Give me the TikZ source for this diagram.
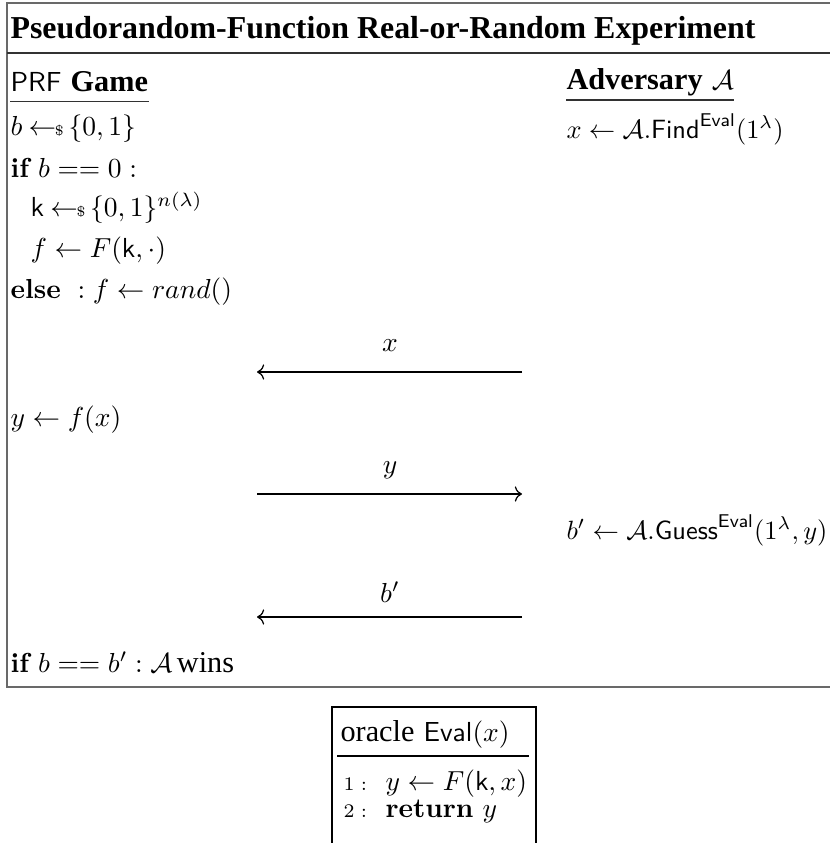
\documentclass[tikz,border=0pt]{standalone}
\usepackage{amsmath,amssymb}
\usepackage{graphicx}
\usepackage{fontspec}
\usepackage{xcolor}
\usepackage{tikz}
\usetikzlibrary{arrows.meta, positioning}
\newfontfamily\palfont{Liberation Serif}
\definecolor{framegray}{RGB}{105, 105, 105}
\definecolor{rulegray}{RGB}{50, 50, 50}
\newcommand{\smpl}{\hskip2.3pt{\gets\!\!\mbox{\tiny$\$$}}\,}
\newcommand{\headtxt}[1]{{\palfont\fontsize{11}{13}\selectfont #1}}

\begin{document}
\begin{tikzpicture}[
    x=0.3636pt, y=-0.3636pt,
    txt/.style={anchor=west, inner sep=0pt},
    lbl/.style={inner sep=0pt},
    frame/.style={draw=framegray, line width=0.6pt},
    rule/.style={draw=rulegray, line width=0.45pt},
    msg/.style={-{To[length=2.6pt, width=5.5pt]}, line width=0.45pt}
]
\useasboundingbox (0,0) rectangle (830,843);

\draw[frame] (7,3) rectangle (845,687);
\draw[rule] (7,53) -- (845,53);

\node[txt] (title) at (10,31) {\palfont\fontsize{11.6}{14}\selectfont\bfseries Pseudorandom-Function Real-or-Random Experiment};

\node[txt] (game) at (10,82) {\textsf{PRF} \headtxt{\bfseries Game}};
\node[txt] (adv) at (566,82) {\headtxt{\bfseries Adversary} $\mathcal{A}$};
\draw[rule] ([yshift=-3.2pt]game.south west) -- ([yshift=-3.2pt]game.south east);
\draw[rule] ([yshift=-1.3pt]adv.south west) -- ([yshift=-1.3pt]adv.south east);

\node[txt] (bsmp) at (10,129) {$b \smpl \{0,1\}$};
\node[txt] (find) at (566,129) {\scalebox{0.96}{$x \gets \mathcal{A}.\mathsf{Find}^{\mathsf{Eval}}(1^\lambda)$}};
\node[txt] (ifb) at (10,168) {$\textbf{if}\ b == 0:$};
\node[txt] (ksmp) at (30,208) {$\mathsf{k} \smpl \{0,1\}^{n(\lambda)}$};
\node[txt] (fdef) at (30,251) {$f \gets F(\mathsf{k},\cdot)$};
\node[txt] (elsef) at (10,292) {$\textbf{else}\ : f \gets rand()$};

\coordinate (xfrom) at (522,372);
\coordinate (xto) at (257,372);
\node[lbl] (xlbl) at (390,346) {$x$};
\draw[msg] (xfrom) -- (xto);

\node[txt] (ycomp) at (10,420) {$y \gets f(x)$};

\coordinate (yfrom) at (257,494);
\coordinate (yto) at (522,494);
\node[lbl] (ylbl) at (390,470) {$y$};
\draw[msg] (yfrom) -- (yto);

\node[txt] (guess) at (566,530) {\scalebox{0.96}{$b' \gets \mathcal{A}.\mathsf{Guess}^{\mathsf{Eval}}(1^\lambda, y)$}};

\coordinate (bfrom) at (522,617);
\coordinate (bto) at (257,617);
\node[lbl] (blbl) at (390,592) {$b'$};
\draw[msg] (bfrom) -- (bto);

\node[txt] (win) at (10,662) {$\textbf{if}\ b == b' : \mathcal{A}\,$\headtxt{wins}};

\draw[line width=0.45pt] (332,707) rectangle (536,870);
\node[txt] (orc) at (340,734) {\headtxt{oracle} $\mathsf{Eval}(x)$};
\draw[line width=0.45pt] (337,756) -- (529,756);
\node[txt] (ln1) at (343,784) {\scriptsize $1:$};
\node[txt] (st1) at (385,784) {$y \gets F(\mathsf{k},x)$};
\node[txt] (ln2) at (343,811) {\scriptsize $2:$};
\node[txt] (st2) at (385,811) {$\textbf{return}\ y$};
\end{tikzpicture}
\end{document}
